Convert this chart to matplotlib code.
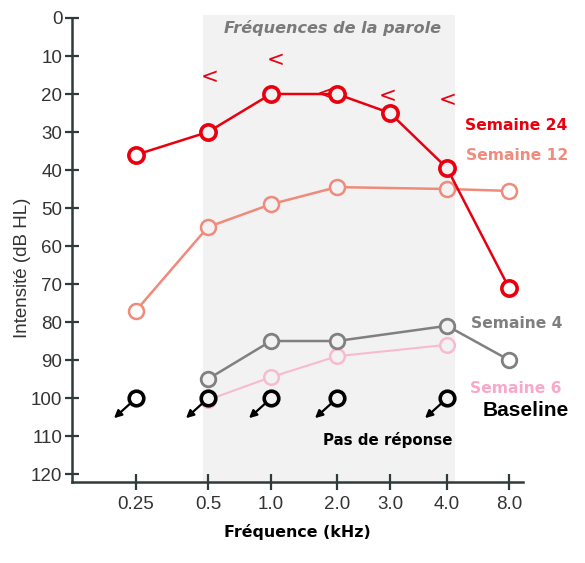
import numpy as np
import matplotlib
matplotlib.use("Agg")
import matplotlib.pyplot as plt
from matplotlib.patches import Rectangle

# ---- data ----
freq_labels = ['0.25', '0.5', '1.0', '2.0', '3.0', '4.0', '8.0']
nan = np.nan
semaine24 = [36, 30, 20, 20, 25, 39.5, 71]
semaine12 = [77, 55, 49, 44.5, nan, 45, 45.5]
semaine4 = [nan, 95, 85, 85, nan, 81, 90]
semaine6 = [nan, 100.5, 94.5, 89, nan, 86, nan]
baseline = [100, 100, 100, 100, nan, 100, nan]
# masked thresholds ("<") for week 24
mask_idx = [1, 2, 3, 4, 5]
mask_vals = [15.5, 11, 20, 20.5, 21.5]

# ---- layout (horizontal positions of frequencies) ----
xpos = np.array([136, 208, 271, 337, 390, 447, 509], dtype=float)
mask_dx = [2, 5, -11, -2, 1]
shade_x0, shade_x1 = 203, 455

W, H = 585, 563
fig = plt.figure(figsize=(W / 100, H / 100), dpi=100)
ax = fig.add_axes([72 / W, (H - 482) / H, (523 - 72) / W, (482 - 18) / H])
ax.set_xlim(72, 523)
ax.set_ylim(122.1, 0)

spine_c = '#2f3b3b'
for s in ['top', 'right']:
    ax.spines[s].set_visible(False)
for s in ['left', 'bottom']:
    ax.spines[s].set_color(spine_c)
    ax.spines[s].set_linewidth(1.8)

# shaded speech-frequency band
ax.add_patch(Rectangle((shade_x0, -0.8), shade_x1 - shade_x0, 122.9,
                       facecolor='#f2f2f2', edgecolor='none', zorder=0, clip_on=False))

ax.set_xticks(xpos)
ax.set_xticklabels(freq_labels)
ax.set_yticks(np.arange(0, 121, 10))
ax.tick_params(axis='x', direction='inout', length=12, width=1.6, color=spine_c,
               labelsize=13.5, labelcolor='#333333', pad=4)
ax.tick_params(axis='y', direction='inout', length=10, width=1.6, color=spine_c,
               labelsize=13.5, labelcolor='#333333', pad=2)
for lab in ax.get_xticklabels() + ax.get_yticklabels():
    lab.set_family('Liberation Sans')


def face_for(x):
    return '#f2f2f2' if shade_x0 <= x <= shade_x1 else 'white'


def draw(values, color, lw, ms, mew, z):
    v = np.array(values, dtype=float)
    ok = ~np.isnan(v)
    ax.plot(xpos[ok], v[ok], '-', color=color, lw=lw, zorder=z)
    for x, y in zip(xpos[ok], v[ok]):
        ax.plot([x], [y], 'o', ms=ms, mew=mew, mec=color, mfc=face_for(x), zorder=z + 0.5)


draw(semaine6, '#f9bad0', 1.5, 10.5, 1.8, 2)
draw(semaine4, '#808080', 1.8, 10.5, 2.0, 3)
draw(semaine12, '#f08a7a', 1.8, 10.8, 1.8, 4)
draw(semaine24, '#e8000f', 1.8, 11, 2.6, 6)

# baseline: no response (circles with arrows)
b = np.array(baseline, dtype=float)
okb = ~np.isnan(b)
for x, y in zip(xpos[okb], b[okb]):
    ax.annotate('', xy=(x - 22, y + 5.3), xytext=(x - 6, y + 1.5),
                arrowprops=dict(arrowstyle='-|>', color='black', lw=1.6,
                                mutation_scale=11, shrinkA=0, shrinkB=0), zorder=7)
    ax.plot([x], [y], 'o', ms=10.5, mew=2.6, mec='black', mfc=face_for(x), zorder=8)

# masked markers "<"
for i, v, dx in zip(mask_idx, mask_vals, mask_dx):
    ax.text(xpos[i] + dx, v, '<', color='#e8000f', fontsize=15.5, ha='center', va='center',
            family='DejaVu Sans', zorder=9)

# texts
F = 'DejaVu Sans'
ax.text(333, 2.6, 'Fréquences de la parole', color='#7a7a7a', fontsize=11.6,
        fontweight='bold', style='italic', family=F, ha='center', va='center')
ax.text(465, 28.2, 'Semaine 24', color='#e8000f', fontsize=11.2, fontweight='bold',
        family=F, ha='left', va='center', clip_on=False)
ax.text(466, 36.1, 'Semaine 12', color='#ef8c7d', fontsize=11.2, fontweight='bold',
        family=F, ha='left', va='center', clip_on=False)
ax.text(471, 80.3, 'Semaine 4', color='#7f7f7f', fontsize=11.2, fontweight='bold',
        family=F, ha='left', va='center', clip_on=False)
ax.text(470, 97.6, 'Semaine 6', color='#f9a8cb', fontsize=11.2, fontweight='bold',
        family=F, ha='left', va='center', clip_on=False)
ax.text(483, 103.4, 'Baseline', color='black', fontsize=15, fontweight='bold',
        family='Liberation Sans', ha='left', va='center', clip_on=False)
ax.text(388, 111, 'Pas de réponse', color='black', fontsize=10.8, fontweight='bold',
        family=F, ha='center', va='center')

ax.set_xlabel('Fréquence (kHz)', fontsize=11.4, fontweight='bold', family=F,
              color='black', labelpad=8)
ax.set_ylabel('Intensité (dB HL)', fontsize=13.5, family='Liberation Sans',
              color='#333333')
ax.yaxis.set_label_coords(-0.091, 0.461)

fig.savefig('out.png', dpi=100)
